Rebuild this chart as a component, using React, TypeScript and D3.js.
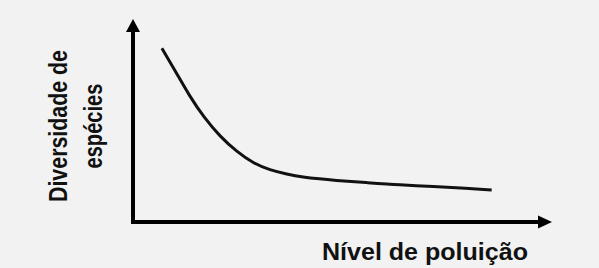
import React, { useEffect, useRef } from "react";
import * as d3 from "d3";

// curve (arbitrary units 0..100 on both axes)
const poluicao = [6.9, 10.4, 13.6, 16.8, 20.8, 24.8, 28.7, 32.7, 36.7, 40.6, 44.6, 47.8, 55.8, 63.7, 71.7, 79.6, 85.6];
const diversidade = [85.6, 73.3, 61.7, 51.9, 42.0, 34.6, 28.9, 25.6, 23.6, 22.1, 21.2, 20.6, 19.4, 18.2, 17.6, 16.6, 15.8];

const xLabel = "Nível de poluição";
const yLabelLines = ["Diversidade de", "espécies"];

const W = 599;
const H = 268;

const App = () => {
  const svgRef = useRef<SVGSVGElement | null>(null);

  useEffect(() => {
    if (svgRef.current) drawChart();
  }, []);

  const drawChart = () => {
    const svg = d3.select(svgRef.current);
    svg.selectAll("*").remove();

    const x0 = 133;
    const y0 = 222;
    const x = d3.scaleLinear().domain([0, 100]).range([x0, 552]);
    const y = d3.scaleLinear().domain([0, 100]).range([y0, 19]);

    svg.append("rect").attr("width", W).attr("height", H).attr("fill", "#f2f2f2");

    // eixos
    svg
      .append("line")
      .attr("x1", x(0))
      .attr("y1", y0 + 2)
      .attr("x2", x(0))
      .attr("y2", y(100) + 10)
      .attr("stroke", "#000")
      .attr("stroke-width", 4);
    svg
      .append("line")
      .attr("x1", x0 - 2)
      .attr("y1", y(0))
      .attr("x2", x(100) - 10)
      .attr("y2", y(0))
      .attr("stroke", "#000")
      .attr("stroke-width", 4);

    // flechas
    svg
      .append("path")
      .attr("d", `M${x(0)},${y(100)} L${x(0) + 7},${y(100) + 13} L${x(0) - 7},${y(100) + 13} Z`)
      .attr("fill", "#000");
    svg
      .append("path")
      .attr("d", `M${x(100)},${y(0)} L${x(100) - 14},${y(0) - 6.5} L${x(100) - 14},${y(0) + 6.5} Z`)
      .attr("fill", "#000");

    const data = poluicao.map((p, i) => ({ p, d: diversidade[i] }));
    const line = d3
      .line<{ p: number; d: number }>()
      .x((d) => x(d.p))
      .y((d) => y(d.d))
      .curve(d3.curveBasis);

    svg
      .append("path")
      .datum(data)
      .attr("d", line)
      .attr("fill", "none")
      .attr("stroke", "#111")
      .attr("stroke-width", 3)
      .attr("stroke-linecap", "butt");

    // textos
    svg
      .append("text")
      .attr("x", 322)
      .attr("y", 260)
      .attr("font-family", "Liberation Sans, Arial, sans-serif")
      .attr("font-weight", "bold")
      .attr("font-size", 24)
      .attr("fill", "#111")
      .attr("textLength", 206)
      .attr("lengthAdjust", "spacingAndGlyphs")
      .text(xLabel);

    const yLab = [
      { t: yLabelLines[0], bx: 67, len: 152 },
      { t: yLabelLines[1], bx: 102, len: 85 },
    ];
    svg
      .selectAll(".ylab")
      .data(yLab)
      .enter()
      .append("text")
      .attr("class", "ylab")
      .attr("transform", (d) => `translate(${d.bx},126) rotate(-90)`)
      .attr("text-anchor", "middle")
      .attr("font-family", "Liberation Sans Narrow, Liberation Sans, Arial, sans-serif")
      .attr("font-weight", "bold")
      .attr("font-size", 26)
      .attr("fill", "#111")
      .attr("textLength", (d) => d.len)
      .attr("lengthAdjust", "spacingAndGlyphs")
      .text((d) => d.t);
  };

  return (
    <div style={{ position: "fixed", left: 0, top: 0 }}>
      <svg ref={svgRef} width={W} height={H} style={{ display: "block" }}></svg>
    </div>
  );
};

export default App;
